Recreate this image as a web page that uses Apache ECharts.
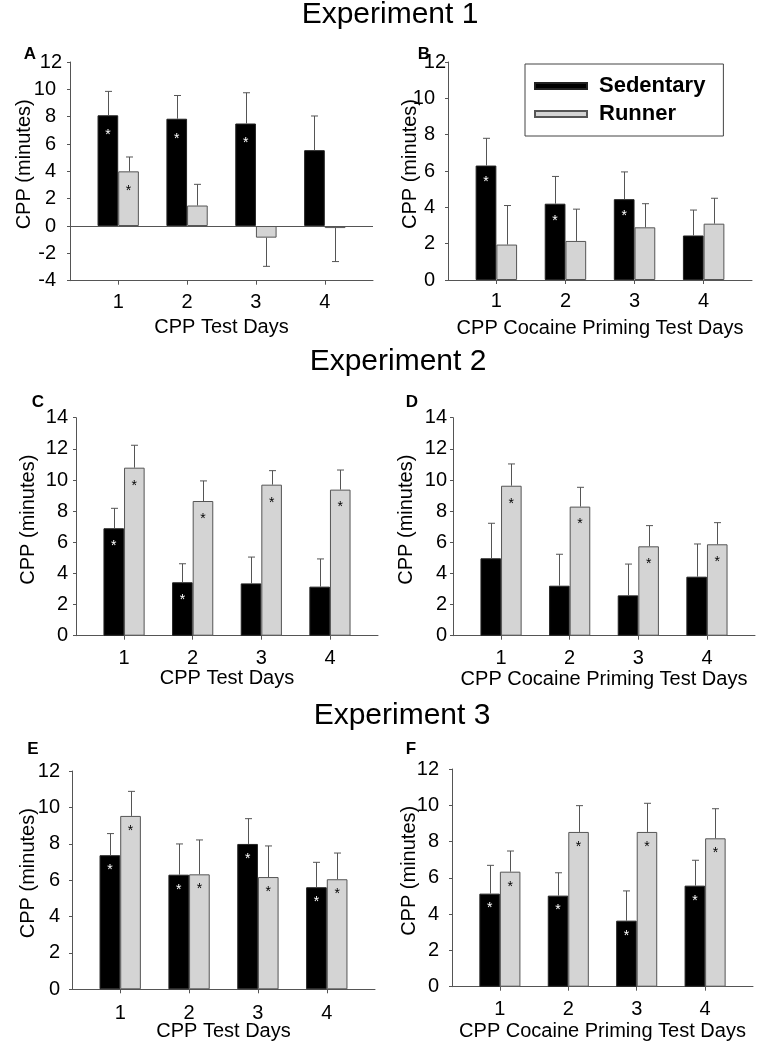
<!DOCTYPE html>
<html><head><meta charset="utf-8">
<script src="https://cdn.jsdelivr.net/npm/echarts@6/dist/echarts.min.js"></script>
<style>html,body{margin:0;padding:0;background:#fff}#c{width:769px;height:1050px}</style>
</head><body><div id="c"></div>
<script>
// ---------- data ----------
const days = [1, 2, 3, 4];
const groupNames = ['Sedentary', 'Runner'];
const experimentTitles = ['Experiment 1', 'Experiment 2', 'Experiment 3'];
const panelLetters = ['A', 'B', 'C', 'D', 'E', 'F'];
const xTitles = ['CPP Test Days', 'CPP Cocaine Priming Test Days', 'CPP Test Days',
                 'CPP Cocaine Priming Test Days', 'CPP Test Days', 'CPP Cocaine Priming Test Days'];
const yTitle = 'CPP (minutes)';
const yMins = [-4, 0, 0, 0, 0, 0];
const yMaxs = [12, 12, 14, 14, 12, 12];
const yStep = 2;

// Panel A
const sedA = [8.1, 7.85, 7.5, 5.55];
const sedSemA = [1.75, 1.7, 2.25, 2.5];
const runA = [4.0, 1.5, -0.85, -0.15];
const runSemA = [1.05, 1.55, 2.1, 2.45];
const sedStarA = [1, 1, 1, 0];
const runStarA = [1, 0, 0, 0];
// Panel B
const sedB = [6.3, 4.2, 4.45, 2.45];
const sedSemB = [1.5, 1.5, 1.5, 1.4];
const runB = [1.95, 2.15, 2.9, 3.1];
const runSemB = [2.15, 1.75, 1.3, 1.4];
const sedStarB = [1, 1, 1, 0];
const runStarB = [0, 0, 0, 0];
// Panel C
const sedC = [6.9, 3.43, 3.36, 3.15];
const sedSemC = [1.28, 1.19, 1.69, 1.78];
const runC = [10.79, 8.65, 9.7, 9.38];
const runSemC = [1.44, 1.29, 0.9, 1.26];
const sedStarC = [1, 1, 0, 0];
const runStarC = [1, 1, 1, 1];
// Panel D
const sedD = [4.97, 3.21, 2.59, 3.79];
const sedSemD = [2.25, 2.02, 2.01, 2.1];
const runD = [9.63, 8.29, 5.74, 5.87];
const runSemD = [1.4, 1.24, 1.33, 1.39];
const sedStarD = [0, 0, 0, 0];
const runStarD = [1, 1, 1, 1];
// Panel E
const sedE = [7.37, 6.3, 7.99, 5.61];
const sedSemE = [1.19, 1.69, 1.39, 1.37];
const runE = [9.53, 6.32, 6.17, 6.05];
const runSemE = [1.35, 1.89, 1.71, 1.44];
const sedStarE = [1, 1, 1, 1];
const runStarE = [1, 1, 1, 1];
// Panel F
const sedF = [5.13, 5.02, 3.64, 5.57];
const sedSemF = [1.56, 1.26, 1.64, 1.4];
const runF = [6.34, 8.53, 8.53, 8.18];
const runSemF = [1.14, 1.45, 1.58, 1.63];
const sedStarF = [1, 1, 1, 1];
const runStarF = [1, 1, 1, 1];

const panels = [
  { sed: sedA, sedSem: sedSemA, run: runA, runSem: runSemA, sedStar: sedStarA, runStar: runStarA },
  { sed: sedB, sedSem: sedSemB, run: runB, runSem: runSemB, sedStar: sedStarB, runStar: runStarB },
  { sed: sedC, sedSem: sedSemC, run: runC, runSem: runSemC, sedStar: sedStarC, runStar: runStarC },
  { sed: sedD, sedSem: sedSemD, run: runD, runSem: runSemD, sedStar: sedStarD, runStar: runStarD },
  { sed: sedE, sedSem: sedSemE, run: runE, runSem: runSemE, sedStar: sedStarE, runStar: runStarE },
  { sed: sedF, sedSem: sedSemF, run: runF, runSem: runSemF, sedStar: sedStarF, runStar: runStarF }
];

// ---------- layout / style ----------
const FONT = '"Liberation Sans", Arial, Helvetica, sans-serif';
const AX = '#555';
const BAR_FRAC = 0.3;
// yTopMargin: gap for the topmost y label; yMargin: gap for the other y labels
const layout = [
  { left: 70,  top: 62,    width: 303, height: 218.7, xLabelMargin: 12, xNameGap: 37, yNameGap: 36, starGap: 13, yTopMargin: 8, yMargin: 14 },
  { left: 448, top: 62,    width: 304, height: 218,   xLabelMargin: 11, xNameGap: 38, yNameGap: 28, starGap: 10, yTopMargin: 2, yMargin: 13 },
  { left: 76,  top: 417.7, width: 302, height: 218,   xLabelMargin: 13, xNameGap: 33, yNameGap: 38, starGap: 11, yTopMargin: 8, yMargin: 8 },
  { left: 453, top: 417.7, width: 302, height: 218,   xLabelMargin: 13, xNameGap: 34, yNameGap: 37, starGap: 11, yTopMargin: 6, yMargin: 6 },
  { left: 72,  top: 771,   width: 303, height: 218.3, xLabelMargin: 14, xNameGap: 32, yNameGap: 34, starGap: 8,  yTopMargin: 12, yMargin: 12 },
  { left: 452, top: 769,   width: 301, height: 217.7, xLabelMargin: 13, xNameGap: 35, yNameGap: 33, starGap: 8,  yTopMargin: 13, yMargin: 13 }
];
const titlePos = [[390, 15], [398, 362], [402, 716]];
const letterPos = [[30, 54], [424, 54], [38, 402], [412, 402], [33, 749], [411, 749]];

function errRender(sign) {
  return function (params, api) {
    const x = api.value(0), m = api.value(1), s = api.value(2);
    const end = m < 0 ? m - s : m + s;
    const p0 = api.coord([x, m]);
    const p1 = api.coord([x, end]);
    const bw = api.size([1, 0])[0] * BAR_FRAC;
    const cx = Math.round(p0[0] + sign * bw / 2) + 0.5;
    const st = { stroke: AX, lineWidth: 1 };
    return {
      type: 'group',
      children: [
        { type: 'line', shape: { x1: cx, y1: p0[1], x2: cx, y2: p1[1] }, style: st },
        { type: 'line', shape: { x1: cx - 3.5, y1: p1[1], x2: cx + 3.5, y2: p1[1] }, style: st }
      ]
    };
  };
}

const grids = [], xAxes = [], yAxes = [], series = [];
panels.forEach((p, i) => {
  const L = layout[i];
  const extraPad = Math.max(0, L.yMargin - L.yTopMargin);
  grids.push({ left: L.left, top: L.top, width: L.width, height: L.height });
  xAxes.push({
    gridIndex: i, type: 'value', min: 0.3, max: 4.7,
    axisLine: { onZero: false, lineStyle: { color: AX, width: 1 } },
    axisTick: { customValues: days, length: 4, lineStyle: { color: AX } },
    axisLabel: { customValues: days, margin: L.xLabelMargin, fontSize: 20, color: '#000', fontFamily: FONT },
    splitLine: { show: false },
    name: xTitles[i], nameLocation: 'middle', nameGap: L.xNameGap, nameMoveOverlap: false,
    nameTextStyle: { fontSize: 20, color: '#000', fontFamily: FONT }
  });
  yAxes.push({
    gridIndex: i, type: 'value', min: yMins[i], max: yMaxs[i], interval: yStep,
    axisLine: { show: true, onZero: false, lineStyle: { color: AX, width: 1 } },
    axisTick: { show: true, length: 3, lineStyle: { color: AX } },
    axisLabel: {
      margin: L.yTopMargin, fontSize: 20, color: '#000', fontFamily: FONT,
      formatter: (v) => (v === yMaxs[i] || extraPad === 0 ? String(v) : '{p|' + v + '}'),
      rich: { p: { fontSize: 20, color: '#000', fontFamily: FONT, padding: [0, extraPad, 0, 0] } }
    },
    splitLine: { show: false },
    name: yTitle, nameLocation: 'middle', nameGap: L.yNameGap, nameMoveOverlap: false,
    nameTextStyle: { fontSize: 20, color: '#000', fontFamily: FONT, padding: [0, 0, 0, 14] }
  });
  const groups = [
    { name: groupNames[0], vals: p.sed, sem: p.sedSem, star: p.sedStar, color: '#000', border: '#222', starColor: '#fff', sign: -1 },
    { name: groupNames[1], vals: p.run, sem: p.runSem, star: p.runStar, color: '#d4d4d4', border: '#555', starColor: '#000', sign: 1 }
  ];
  groups.forEach((g, gi) => {
    const s = {
      type: 'bar', name: g.name, xAxisIndex: i, yAxisIndex: i,
      data: days.map((d, k) => [d, g.vals[k]]),
      barWidth: (BAR_FRAC * 100) + '%', barGap: '0%',
      itemStyle: { color: g.color, borderColor: g.border, borderWidth: 1 },
      label: {
        show: true, position: 'insideTop', distance: L.starGap,
        formatter: (pp) => (g.star[pp.dataIndex] ? '*' : ''),
        color: g.starColor, fontSize: 14, fontFamily: FONT
      },
      emphasis: { disabled: true },
      z: 2
    };
    if (gi === 0 && yMins[i] < 0) {
      s.markLine = {
        silent: true, symbol: ['none', 'none'], label: { show: false },
        lineStyle: { color: AX, width: 1, type: 'solid' },
        data: [{ yAxis: 0 }]
      };
    }
    series.push(s);
    series.push({
      type: 'custom', name: g.name + ' SEM', xAxisIndex: i, yAxisIndex: i,
      data: days.map((d, k) => [d, g.vals[k], g.sem[k]]),
      encode: { x: 0, y: 1 },
      renderItem: errRender(g.sign),
      silent: true, z: 3
    });
  });
});

const graphics = [];
experimentTitles.forEach((t, i) => {
  graphics.push({ type: 'text', x: titlePos[i][0], y: titlePos[i][1],
    style: { text: t, font: '30px ' + FONT, fill: '#000', align: 'center', verticalAlign: 'middle' } });
});
panelLetters.forEach((t, i) => {
  graphics.push({ type: 'text', x: letterPos[i][0], y: letterPos[i][1],
    style: { text: t, font: 'bold 17px ' + FONT, fill: '#000', align: 'center', verticalAlign: 'middle' } });
});

const chart = echarts.init(document.getElementById('c'), null, { renderer: 'canvas' });
chart.setOption({
  backgroundColor: '#fff',
  animation: false,
  grid: grids,
  xAxis: xAxes,
  yAxis: yAxes,
  legend: {
    data: groupNames, left: 525, top: 64, orient: 'vertical',
    icon: 'rect', itemWidth: 52, itemHeight: 6, itemGap: 6,
    borderColor: '#444', borderWidth: 1, padding: [11, 18, 11, 9],
    textStyle: { fontSize: 22, fontWeight: 'bold', color: '#000', fontFamily: FONT, padding: [0, 0, 0, 7], lineHeight: 22 },
    selectedMode: false
  },
  graphic: graphics,
  series: series
});
</script>
</body></html>
